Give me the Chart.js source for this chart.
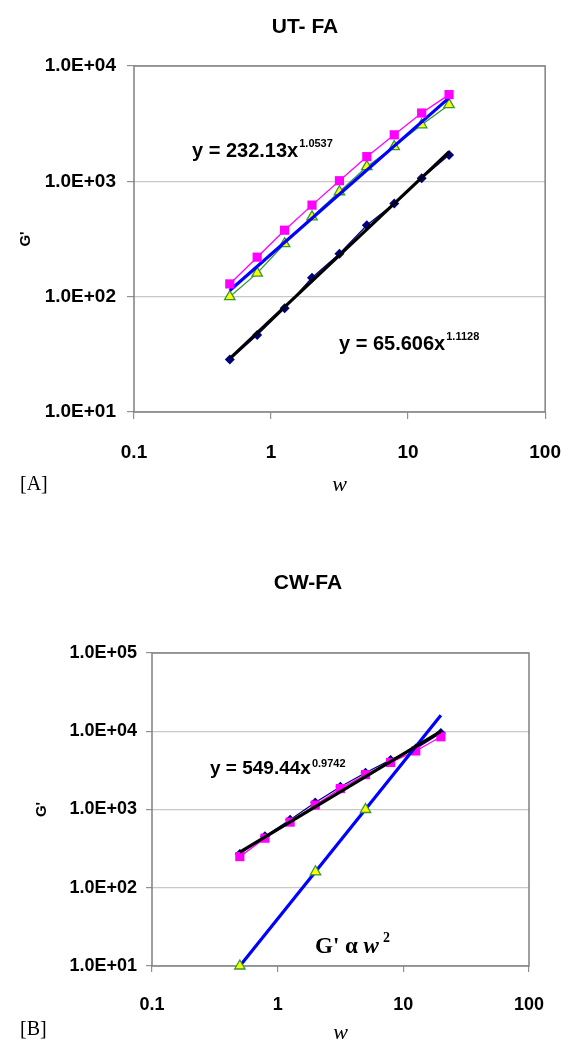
<!DOCTYPE html>
<html><head><meta charset="utf-8">
<script src="https://cdn.jsdelivr.net/npm/chart.js@4.4.1/dist/chart.umd.min.js"></script>
<style>
html,body{margin:0;padding:0;background:#fff;}
#wrap{position:relative;width:583px;height:1044px;overflow:hidden;}
canvas{position:absolute;left:0;}
</style></head><body>
<div id="wrap">
<canvas id="cA" width="583" height="520" style="top:0px"></canvas>
<canvas id="cB" width="583" height="524" style="top:520px"></canvas>
</div>
<script>
// ---------- data ----------
const freq = [0.5, 0.792, 1.256, 1.99, 3.155, 5, 7.924, 12.56, 19.9];
const xTicks = [0.1, 1, 10, 100];
const xTickLabels = ['0.1', '1', '10', '100'];

// Panel A (UT- FA)
const titleA = 'UT- FA';
const yTicksA = [10, 100, 1000, 10000];
const yTickLabelsA = ['1.0E+01', '1.0E+02', '1.0E+03', '1.0E+04'];
const aSquares = [129, 220, 377, 622, 1012, 1637, 2531, 3911, 5645];
const aTriangles = [100, 160, 288, 492, 812, 1340, 2002, 3093, 4620];
const aDiamonds = [28.5, 46.5, 79.3, 146, 236, 416, 643, 1062, 1694];
const aTrendX = [0.5, 19.9];
const aTrendUpper = [113, 5290];
const aTrendLower = [29, 1800];
const aEqUpper = ['y = 232.13x', '1.0537'];
const aEqLower = ['y = 65.606x', '1.1128'];

// Panel B (CW-FA)
const titleB = 'CW-FA';
const yTicksB = [10, 100, 1000, 10000, 100000];
const yTickLabelsB = ['1.0E+01', '1.0E+02', '1.0E+03', '1.0E+04', '1.0E+05'];
const bSquares = [250, 430, 690, 1140, 1850, 2790, 4000, 5600, 8500];
const bDiamonds = [270, 455, 740, 1230, 1950, 2950, 4300, 6000, 9500];
const bTriFreq = [0.5, 2, 5];
const bTriangles = [10, 160, 1000];
const bTrendX = [0.5, 19.9];
const bTrendBlue = [10, 16000];
const bTrendBlack = [285, 9950];
const bEq = ['y = 549.44x', '0.9742'];
const bSlope = ["G' \u03b1 ", 'w', '2'];

// ---------- helpers ----------
const pts = (xs, ys) => xs.map((x, i) => ({x: x, y: ys[i]}));
const SANS = "'Liberation Sans', Arial, sans-serif";
const SERIF = "'Liberation Serif', 'Times New Roman', serif";

function squares(data) {
  return {data, borderColor:'#ff00ff', backgroundColor:'#ff00ff', borderWidth:1.3,
    pointStyle:'rect', pointRadius:6.5, pointBorderWidth:0, pointBackgroundColor:'#ff00ff', clip:false};
}
function triangles(data, lineW) {
  return {data, borderColor:'#339933', backgroundColor:'#ffff00', borderWidth:lineW,
    pointStyle:'triangle', pointRadius:6, pointBorderWidth:1.3, pointBorderColor:'#339933',
    pointBackgroundColor:'#ffff00', clip:false};
}
function diamonds(data) {
  return {data, borderColor:'#000080', backgroundColor:'#000080', borderWidth:1.3,
    pointStyle:'rectRot', pointRadius:5, pointBorderWidth:0, pointBackgroundColor:'#000080', clip:false};
}
function trend(data, color) {
  return {data, borderColor:color, backgroundColor:color, borderWidth:3.2, pointRadius:0, clip:false};
}

const framePlugin = {
  id:'frame',
  beforeDatasetsDraw(chart) {
    const a = chart.chartArea, ctx = chart.ctx;
    ctx.save();
    ctx.strokeStyle = '#808080';
    ctx.lineWidth = 1.5;
    ctx.strokeRect(a.left, a.top, a.right - a.left, a.bottom - a.top);
    ctx.restore();
  }
};

function eqText(ctx, parts, x, base, size, supSize, supRise) {
  ctx.font = 'bold ' + size + 'px ' + SANS;
  ctx.textBaseline = 'alphabetic';
  ctx.textAlign = 'left';
  ctx.fillStyle = '#000';
  ctx.fillText(parts[0], x, base);
  const w = ctx.measureText(parts[0]).width;
  ctx.font = 'bold ' + supSize + 'px ' + SANS;
  ctx.fillText(parts[1], x + w + 1, base - supRise);
}

function makeChart(id, cfg) {
  return new Chart(document.getElementById(id), {
    type:'line',
    data:{datasets:cfg.datasets},
    options:{
      responsive:false, animation:false, devicePixelRatio:1,
      layout:{padding:cfg.padding},
      elements:{line:{tension:0}},
      plugins:{legend:{display:false}, tooltip:{enabled:false}, title:{display:false}},
      scales:{
        x:{type:'logarithmic', position:'bottom', min:0.1, max:100,
          afterBuildTicks:s => { s.ticks = xTicks.map(v => ({value:v})); },
          afterFit:s => { s.height = cfg.xh; },
          ticks:{autoSkip:false, maxRotation:0, color:'#000', padding:cfg.xpad,
            font:{family:SANS, weight:'bold', size:cfg.fs},
            callback:(v, i) => xTickLabels[i]},
          grid:{drawOnChartArea:false, tickLength:cfg.tl, tickColor:'#909090', color:'#909090', lineWidth:1.2},
          border:{display:false},
          title:{display:true, text:'w', color:'#000',
            font:{family:SERIF, style:'italic', size:22, lineHeight:1},
            padding:{top:0, bottom:cfg.wpad}}
        },
        y:{type:'logarithmic', position:'left', min:cfg.ymin, max:cfg.ymax,
          afterBuildTicks:s => { s.ticks = cfg.yTicks.map(v => ({value:v})); },
          afterFit:s => { s.width = cfg.yw; },
          ticks:{autoSkip:false, color:'#000', padding:cfg.ypad,
            font:{family:SANS, weight:'bold', size:cfg.fs},
            callback:(v, i) => cfg.yLabels[i]},
          grid:{drawOnChartArea:true, tickLength:cfg.tl, tickColor:'#909090', color:'#c8c8c8', lineWidth:1.2},
          border:{display:false},
          title:{display:true, text:"G'", color:'#000',
            font:{family:SANS, weight:'bold', size:15, lineHeight:1.2},
            padding:{top:cfg.gpad, bottom:0}}
        }
      }
    },
    plugins:[framePlugin, {id:'txt', afterDraw:cfg.draw}]
  });
}

// ---------- Panel A ----------
makeChart('cA', {
  padding:{top:66, right:18, left:0, bottom:0},
  xh:108, yw:134, tl:7, fs:19, xpad:22, ypad:11, wpad:24, gpad:16.5,
  ymin:10, ymax:10000, yTicks:yTicksA, yLabels:yTickLabelsA,
  datasets:[
    squares(pts(freq, aSquares)),
    trend(pts(aTrendX, aTrendUpper), '#0000ff'),
    triangles(pts(freq, aTriangles), 1.3),
    trend(pts(aTrendX, aTrendLower), '#000000'),
    diamonds(pts(freq, aDiamonds))
  ],
  draw(chart) {
    const ctx = chart.ctx;
    ctx.save();
    ctx.font = 'bold 21px ' + SANS;
    ctx.fillStyle = '#000'; ctx.textAlign = 'center'; ctx.textBaseline = 'middle';
    ctx.fillText(titleA, 305, 27);
    eqText(ctx, aEqUpper, 192, 157, 20, 11, 10);
    eqText(ctx, aEqLower, 339, 350, 20, 11, 10);
    ctx.font = '20px ' + SERIF; ctx.textAlign = 'left'; ctx.textBaseline = 'middle';
    ctx.fillText('[A]', 20, 485);
    ctx.restore();
  }
});

// ---------- Panel B ----------
makeChart('cB', {
  padding:{top:133, right:54, left:0, bottom:0},
  xh:78, yw:152, tl:6, fs:18, xpad:22, ypad:9, wpad:0, gpad:33,
  ymin:10, ymax:100000, yTicks:yTicksB, yLabels:yTickLabelsB,
  datasets:[
    trend(pts(bTrendX, bTrendBlack), '#000000'),
    triangles(pts(bTriFreq, bTriangles), 0),
    trend(pts(bTrendX, bTrendBlue), '#0000ff'),
    squares(pts(freq, bSquares)),
    diamonds(pts(freq, bDiamonds))
  ],
  draw(chart) {
    const ctx = chart.ctx;
    ctx.save();
    ctx.font = 'bold 21px ' + SANS;
    ctx.fillStyle = '#000'; ctx.textAlign = 'center'; ctx.textBaseline = 'middle';
    ctx.fillText(titleB, 308, 63);
    eqText(ctx, bEq, 210, 254, 19, 11, 7);
    // G' alpha w^2
    ctx.textAlign = 'left'; ctx.textBaseline = 'alphabetic';
    ctx.font = 'bold 23px ' + SERIF;
    ctx.fillText(bSlope[0], 315, 433);
    let x = 315 + ctx.measureText(bSlope[0]).width;
    ctx.font = 'italic bold 23px ' + SERIF;
    ctx.fillText(bSlope[1], x, 433);
    x += ctx.measureText(bSlope[1]).width + 4;
    ctx.font = 'bold 14px ' + SERIF;
    ctx.fillText(bSlope[2], x, 422);
    ctx.font = '20px ' + SERIF; ctx.textBaseline = 'middle';
    ctx.fillText('[B]', 20, 510);
    ctx.restore();
  }
});
</script>
</body></html>
